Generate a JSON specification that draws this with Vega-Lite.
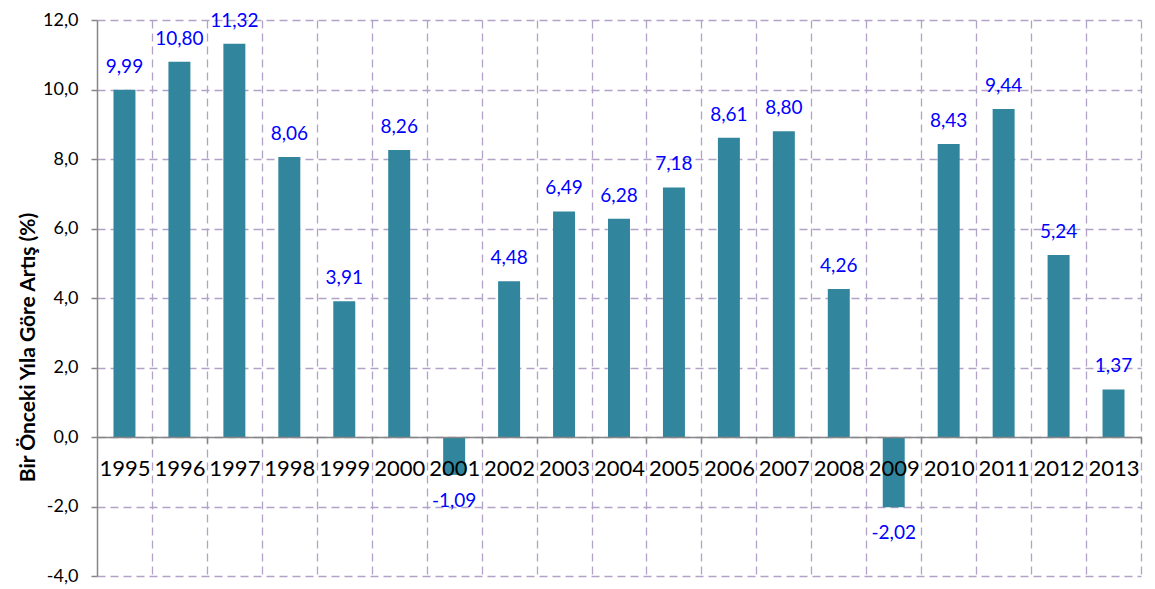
{
  "$schema": "https://vega.github.io/schema/vega-lite/v6.json",
  "autosize": "none",
  "width": 1044,
  "height": 556,
  "padding": {"left": 97, "top": 20, "right": 14, "bottom": 13},
  "background": "white",
  "config": {
    "font": "Lato",
    "view": {"stroke": null},
    "locale": {
      "number": {"decimal": ",", "thousands": ".", "grouping": [3], "currency": ["", " TL"], "minus": "-"}
    }
  },
  "data": {
    "values": [
      {"yil": "1995", "artis": 9.99},
      {"yil": "1996", "artis": 10.80},
      {"yil": "1997", "artis": 11.32},
      {"yil": "1998", "artis": 8.06},
      {"yil": "1999", "artis": 3.91},
      {"yil": "2000", "artis": 8.26},
      {"yil": "2001", "artis": -1.09},
      {"yil": "2002", "artis": 4.48},
      {"yil": "2003", "artis": 6.49},
      {"yil": "2004", "artis": 6.28},
      {"yil": "2005", "artis": 7.18},
      {"yil": "2006", "artis": 8.61},
      {"yil": "2007", "artis": 8.80},
      {"yil": "2008", "artis": 4.26},
      {"yil": "2009", "artis": -2.02},
      {"yil": "2010", "artis": 8.43},
      {"yil": "2011", "artis": 9.44},
      {"yil": "2012", "artis": 5.24},
      {"yil": "2013", "artis": 1.37}
    ]
  },
  "encoding": {
    "x": {
      "field": "yil",
      "type": "nominal",
      "sort": null,
      "scale": {"paddingInner": 0.6, "paddingOuter": 0.3},
      "axis": {
        "title": null,
        "offset": -139,
        "zindex": 1,
        "labelAngle": 0,
        "labelFontSize": 22,
        "labelColor": "black",
        "labelBaseline": "top",
        "labelPadding": 15,
        "bandPosition": 1,
        "tickOffset": 16.5,
        "labelOffset": -16.5,
        "tickSize": 6,
        "tickColor": "#868686",
        "tickWidth": 1.5,
        "domainColor": "#868686",
        "domainWidth": 1.5,
        "grid": true,
        "gridColor": "#b3a2c7",
        "gridDash": [8, 5],
        "gridWidth": 1.3
      }
    },
    "y": {
      "field": "artis",
      "type": "quantitative",
      "scale": {"domain": [-4, 12], "nice": false, "zero": false},
      "axis": {
        "title": "Bir Önceki Yıla Göre Artış (%)",
        "titleFontSize": 21,
        "titleFontWeight": "bold",
        "titleColor": "black",
        "titleX": -69,
        "titleY": 327,
        "titleAngle": 270,
        "titleBaseline": "middle",
        "titleAlign": "center",
        "values": [-4, -2, 0, 2, 4, 6, 8, 10, 12],
        "format": ".1f",
        "labelFontSize": 18,
        "labelColor": "black",
        "labelPadding": 13,
        "tickSize": 6,
        "tickColor": "#868686",
        "tickWidth": 1.5,
        "domainColor": "#868686",
        "domainWidth": 1.5,
        "grid": true,
        "gridColor": "#b3a2c7",
        "gridDash": [8, 5],
        "gridWidth": 1.3
      }
    }
  },
  "layer": [
    {
      "mark": {"type": "bar", "color": "#31859c"}
    },
    {
      "transform": [{"filter": "datum.artis >= 0"}],
      "mark": {"type": "text", "color": "#0000ff", "fontSize": 19, "baseline": "middle", "dy": -23},
      "encoding": {"text": {"field": "artis", "type": "quantitative", "format": ".2f"}}
    },
    {
      "transform": [{"filter": "datum.artis < 0"}],
      "mark": {"type": "text", "color": "#0000ff", "fontSize": 19, "baseline": "middle", "dy": 26},
      "encoding": {"text": {"field": "artis", "type": "quantitative", "format": ".2f"}}
    }
  ]
}
